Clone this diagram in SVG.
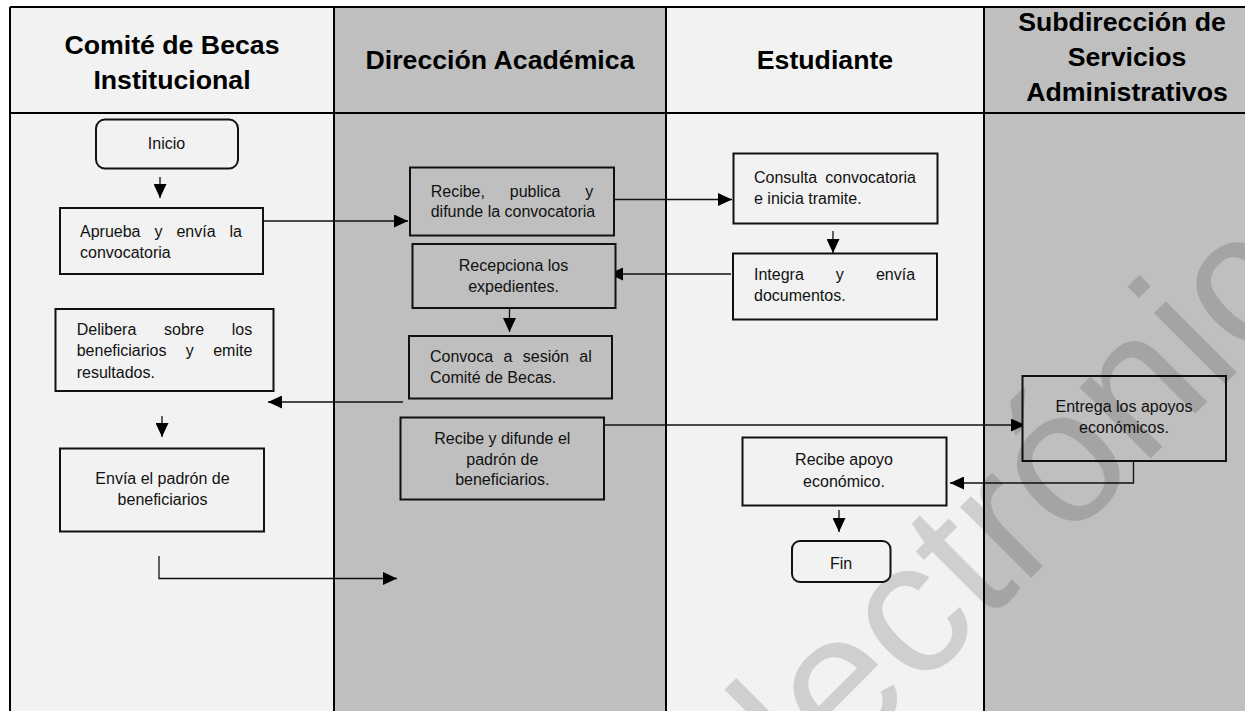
<svg xmlns="http://www.w3.org/2000/svg" width="1245" height="711" viewBox="0 0 1245 711">
<style>
.hd{font-family:"Liberation Sans",Arial,sans-serif;font-weight:bold;font-size:26.7px;fill:#000;text-anchor:middle}
.t{font-family:"Liberation Sans",Arial,sans-serif;font-size:16px;fill:#111}
.c{text-anchor:middle}
.b1{fill:#F2F2F2;stroke:#111;stroke-width:2}
.b2{fill:#BFBFBF;stroke:#111;stroke-width:2}
.lane{stroke:#000;stroke-width:2;fill:none}
.cn{stroke:#111;stroke-width:1.3;fill:none;marker-end:url(#ah)}
.wm{font-family:"Liberation Sans",Arial,sans-serif;font-size:190px;fill:#000;fill-opacity:0.14}
</style>
<defs>
<marker id="ah" markerUnits="userSpaceOnUse" markerWidth="14" markerHeight="13" refX="14" refY="6.5" orient="auto">
<path d="M0,0 L14,6.5 L0,13 z" fill="#000"/>
</marker>
</defs>
<rect width="1245" height="711" fill="#fff"/>
<g id="lanes">
<rect x="10" y="7" width="324" height="704" fill="#F2F2F2"/>
<rect x="334" y="7" width="332" height="704" fill="#BFBFBF"/>
<rect x="666" y="7" width="318" height="704" fill="#F2F2F2"/>
<rect x="984" y="7" width="261" height="704" fill="#BFBFBF"/>
<path class="lane" d="M10,7 H1245 M10,113 H1245 M10,7 V711 M334,7 V711 M666,7 V711 M984,7 V711"/>
<text class="hd" x="172" y="54">Comité de Becas</text>
<text class="hd" x="172" y="89">Institucional</text>
<text class="hd" x="500" y="69">Dirección Académica</text>
<text class="hd" x="825" y="69">Estudiante</text>
<text class="hd" x="1122" y="31">Subdirección de</text>
<text class="hd" x="1127" y="66">Servicios</text>
<text class="hd" x="1127" y="101">Administrativos</text>
</g>
<g id="connectors">
<path class="cn" d="M160,177 V198"/>
<path class="cn" d="M263,221 H408"/>
<path class="cn" d="M615,199.5 H732"/>
<path class="cn" d="M833,231 V253"/>
<path class="cn" d="M731,274 H609"/>
<path class="cn" d="M509.5,308 V332"/>
<path class="cn" d="M403,402 H268"/>
<path class="cn" d="M162,416 V437"/>
<path class="cn" d="M159,556 V578.5 H397"/>
<path class="cn" d="M604,425 H1025"/>
<path class="cn" d="M1133.5,461 V483 H950"/>
<path class="cn" d="M839,510 V532"/>
</g>
<g id="inicio">
<rect class="b1" x="96" y="119.5" width="142" height="49" rx="9"/>
<text class="t c" x="166.5" y="149">Inicio</text>
</g>
<g id="aprueba">
<rect class="b1" x="60" y="208" width="203" height="66"/>
<text class="t" x="80" y="236.5" word-spacing="9.5">Aprueba y envía la</text>
<text class="t" x="80" y="257.5">convocatoria</text>
</g>
<g id="delibera">
<rect class="b1" x="55.5" y="309" width="218" height="82"/>
<text class="t" x="76.7" y="334.5" word-spacing="23.3">Delibera sobre los</text>
<text class="t" x="76.7" y="356" word-spacing="14.9">beneficiarios y emite</text>
<text class="t" x="76.7" y="377.5">resultados.</text>
</g>
<g id="envia">
<rect class="b1" x="60" y="448.5" width="204" height="83"/>
<text class="t c" x="162.5" y="483.5">Envía el padrón de</text>
<text class="t c" x="162.5" y="505">beneficiarios</text>
</g>
<g id="recibe-publica">
<rect class="b2" x="410" y="167.5" width="204" height="68"/>
<text class="t" x="430.7" y="196.5" word-spacing="20.4">Recibe, publica y</text>
<text class="t" x="430.7" y="217">difunde la convocatoria</text>
</g>
<g id="recepciona">
<rect class="b2" x="412.5" y="244" width="203" height="64"/>
<text class="t c" x="513.5" y="270.5">Recepciona los</text>
<text class="t c" x="513.5" y="291.5">expedientes.</text>
</g>
<g id="convoca">
<rect class="b2" x="409" y="336" width="203" height="62.5"/>
<text class="t" x="430" y="361.5" word-spacing="5.9">Convoca a sesión al</text>
<text class="t" x="430" y="382.5">Comité de Becas.</text>
</g>
<g id="recibe-difunde">
<rect class="b2" x="400.5" y="417.5" width="203.5" height="82"/>
<text class="t c" x="502.3" y="443.5">Recibe y difunde el</text>
<text class="t c" x="502.3" y="464.5">padrón de</text>
<text class="t c" x="502.3" y="485">beneficiarios.</text>
</g>
<g id="consulta">
<rect class="b1" x="733.5" y="153.5" width="204" height="70"/>
<text class="t" x="754" y="182.5" word-spacing="3.7">Consulta convocatoria</text>
<text class="t" x="754" y="203.5">e inicia tramite.</text>
</g>
<g id="integra">
<rect class="b1" x="733" y="253.5" width="204" height="66"/>
<text class="t" x="754" y="280" word-spacing="27.6">Integra y envía</text>
<text class="t" x="754" y="301">documentos.</text>
</g>
<g id="recibe-apoyo">
<rect class="b1" x="742.5" y="437.5" width="204" height="68"/>
<text class="t c" x="844" y="465">Recibe apoyo</text>
<text class="t c" x="844" y="487">económico.</text>
</g>
<g id="fin">
<rect class="b1" x="792" y="541" width="98.5" height="41" rx="8"/>
<text class="t c" x="841" y="569">Fin</text>
</g>
<g id="entrega">
<rect class="b2" x="1022.5" y="376" width="203.5" height="85"/>
<text class="t c" x="1124" y="412">Entrega los apoyos</text>
<text class="t c" x="1124" y="433">económicos.</text>
</g>
<text class="wm" x="738" y="871" transform="rotate(-45 738 871)">electrónico</text>
</svg>
